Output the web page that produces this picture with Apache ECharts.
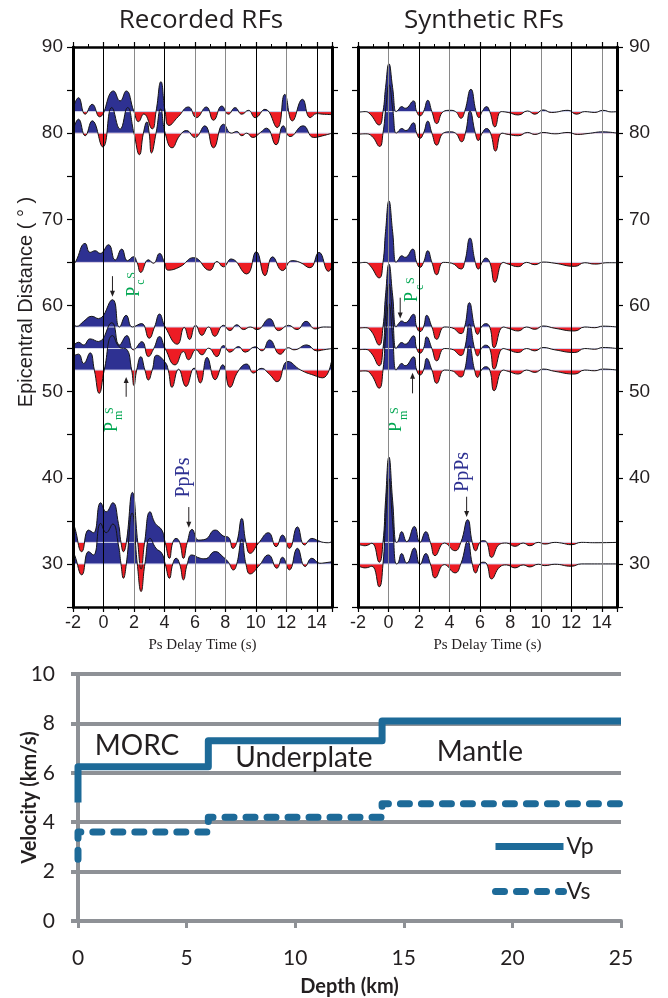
<!DOCTYPE html>
<html>
<head>
<meta charset="utf-8">
<script src="https://cdn.jsdelivr.net/npm/echarts@6/dist/echarts.min.js"></script>
<style>
  html, body { margin: 0; padding: 0; background: #ffffff; }
  #main { width: 668px; height: 998px; }
</style>
</head>
<body>
<div id="main"></div>
<script>
// Receiver-function traces. Each trace is a list of [Ps delay time (s), amplitude],
// amplitude expressed in degrees of epicentral distance above (+) or below (-) the trace baseline.
const recDistances = [82.5, 80, 65, 57.5, 55, 52.5, 32.5, 30];

const rec825 = [[-2.0,0.3],[-1.64,1.62],[-1.2,-0.3],[-0.74,0.85],[-0.26,-0.6],[0.66,2.4],[1.09,1.24],[1.49,2.4],[2.0,0],[2.3,-1.16],[2.65,-0.27],[3.2,-2.0],[3.45,0],[3.77,3.47],[4.05,0],[4.3,-1.6],[4.9,-0.6],[5.58,0.54],[6.1,-0.7],[6.75,0.54],[7.22,-1.0],[7.77,0.65],[8.2,-0.3],[8.64,0.46],[9.08,-0.3],[9.52,0.15],[9.96,-0.7],[10.6,0.27],[11.4,-1.85],[11.9,2.0],[12.4,-1.08],[13.06,1.43],[13.57,-0.7],[14.0,-0.23],[14.4,-0.3],[15.0,-0.35]];
const rec80 = [[-2.0,0.27],[-1.64,1.62],[-1.2,-0.3],[-0.74,1.43],[-0.04,-1.6],[0.55,2.97],[1.09,0.46],[1.58,2.97],[2.0,0],[2.36,-2.5],[2.62,0],[2.85,1.3],[3.0,0],[3.15,-2.3],[3.45,0],[3.75,2.8],[4.05,0],[4.5,-1.7],[5.0,-0.3],[5.45,0.3],[6.0,-0.5],[6.65,0.85],[7.22,-1.7],[7.88,1.04],[8.4,0],[8.75,0.2],[9.08,-0.3],[9.4,0],[9.8,-0.5],[10.3,0.08],[10.7,0.58],[11.33,-1.35],[11.8,0.85],[12.25,-0.4],[13.1,0.85],[13.8,-0.5],[14.4,-0.3],[15.0,0]];
const rec65 = [[-2.0,-0.27],[-1.85,0],[-1.2,2.2],[-0.88,1.16],[-0.55,1.35],[-0.22,1.04],[0.33,2.05],[0.77,0.27],[1.2,1.54],[1.58,0.2],[1.97,0.66],[2.2,0],[2.45,-1.16],[2.95,0.3],[3.28,-0.1],[3.68,1.04],[4.0,0],[4.25,-0.9],[5.03,-0.5],[5.92,0.55],[6.98,-0.92],[7.45,0.1],[7.87,-0.52],[8.38,0.4],[9.4,-1.35],[10.03,1.24],[10.6,-1.54],[11.1,0.64],[11.75,-0.95],[12.38,0.2],[12.9,0.0],[13.55,-0.62],[14.15,1.16],[14.78,-1.04],[15.0,-0.5]];
const rec575 = [[-2.0,0.46],[-1.75,0.08],[-1.3,0.66],[-0.77,1.24],[-0.33,0.97],[0.59,3.17],[1.05,0],[1.49,1.35],[1.9,0],[2.5,0.4],[3.0,-1.3],[3.35,0],[3.68,1.5],[4.05,0],[4.85,-2.0],[5.3,-0.05],[5.65,-1.45],[6.05,0.2],[6.46,-0.97],[6.9,0],[7.3,-1.08],[7.88,0.2],[8.3,-0.42],[8.75,0.27],[9.2,-0.3],[9.63,0],[10.07,-0.3],[10.9,0.97],[11.5,-0.42],[12.14,0.2],[12.7,-0.3],[13.3,0.66],[13.9,-0.23],[14.44,0],[15.0,-0.02]];
const rec55 = [[-2.0,0.23],[-1.64,0.73],[-1.3,0.42],[-0.88,1.12],[-0.33,0.81],[0.55,3.0],[1.05,0.42],[1.53,1.5],[1.97,-0.15],[2.52,0.8],[2.95,-0.93],[3.3,0],[3.68,1.39],[4.05,0],[4.7,-1.9],[5.25,-0.35],[5.58,-1.3],[6.08,-0.15],[6.46,-0.73],[6.9,0.04],[7.44,-0.93],[7.88,0.35],[8.3,-0.42],[8.86,0.23],[9.3,-0.42],[9.96,0.2],[10.4,-0.27],[10.9,1.0],[11.6,-0.66],[12.14,0.1],[12.5,-0.15],[13.35,0.42],[14.0,-0.27],[14.44,-0.15],[15.0,0.0]];
const rec525 = [[-2.0,1.62],[-1.64,1.85],[-1.3,0.77],[-0.88,2.0],[-0.6,0],[-0.28,-2.7],[0.05,0],[0.6,4.0],[1.1,2.6],[1.5,2.45],[1.85,0],[2.0,-1.8],[2.18,0],[2.45,1.55],[2.72,0],[2.95,-1.15],[3.2,0],[3.5,1.72],[4.05,0.9],[4.25,0],[4.5,-2.0],[4.93,0.1],[5.42,-1.9],[5.95,0.23],[6.35,-1.5],[6.8,1.47],[7.33,-1.12],[7.83,0.62],[8.3,-2.0],[8.85,-0.1],[9.4,0.7],[9.85,-0.35],[10.35,0.2],[10.9,-0.5],[11.4,-1.35],[12.1,1.0],[12.95,0],[13.8,-0.6],[14.4,-0.9],[14.95,0.9]];
const rec325 = [[-2.0,2.1],[-1.9,1.8],[-1.42,-1.08],[-0.98,1.43],[-0.66,1.12],[-0.18,4.6],[0.18,3.55],[0.61,4.6],[0.98,2.2],[1.15,0],[1.31,-1.08],[1.5,0],[1.9,5.8],[2.25,0],[2.47,-3.1],[2.7,0],[3.06,3.55],[3.4,2.2],[3.83,1.43],[4.05,0],[4.33,-1.85],[4.55,0],[4.77,0.46],[5.0,0],[5.25,-1.85],[5.5,0],[5.82,1.5],[6.24,0.27],[6.67,0.35],[7.33,1.43],[7.88,0.73],[8.2,0.6],[8.5,-0.7],[8.75,0],[9.08,2.78],[9.35,0],[9.63,-1.27],[10.17,-0.1],[10.83,1.12],[11.33,-0.5],[11.75,0.85],[12.2,-0.7],[12.73,1.8],[13.2,-0.3],[13.68,0.46],[14.1,0.2],[14.44,0],[14.77,-0.04],[15.0,0.1]];
const rec30 = [[-2.0,1.24],[-1.9,1.04],[-1.42,-1.27],[-0.98,1.43],[-0.66,1.04],[-0.18,4.7],[0.18,3.63],[0.61,4.63],[0.98,2.2],[1.15,0],[1.31,-1.66],[1.5,0],[1.88,5.9],[2.22,0],[2.47,-3.2],[2.72,0],[3.06,2.97],[3.45,1.81],[3.83,1.24],[4.05,0],[4.33,-1.66],[4.55,0],[4.77,0.66],[5.0,0],[5.25,-1.85],[5.5,0],[5.8,1.04],[6.35,0.66],[6.67,0.6],[7.33,1.43],[7.88,0.77],[8.2,0.2],[8.53,-0.7],[8.75,0],[9.08,2.86],[9.35,0],[9.63,-1.16],[10.17,-0.3],[10.83,1.04],[11.38,-0.5],[11.75,0.77],[12.2,-0.7],[12.73,1.81],[13.24,-0.3],[13.68,0.66],[14.2,0.08],[14.6,0.15],[15.0,0.25]];

const synDistances = [82.5, 80, 65, 57.5, 55, 52.5, 32.5, 30];

const syn825 = [[-2.0,-0.1],[-1.53,0],[-1.2,-0.3],[-0.61,-1.55],[-0.36,0],[-0.19,2.8],[0.03,5.56],[0.27,2.8],[0.5,0],[0.62,0.15],[0.87,0.58],[1.1,0.39],[1.64,1.24],[1.85,0],[2.07,-0.5],[2.3,0],[2.58,1.31],[2.85,0],[3.17,-1.39],[3.6,0],[4.04,0.15],[4.4,0],[4.76,-0.77],[5.0,0],[5.41,2.59],[5.75,0],[5.94,-0.7],[6.15,0],[6.44,0.58],[6.65,0],[6.99,-1.78],[7.4,0],[7.86,-0.1],[8.52,-0.39],[9.13,0.08],[9.61,-0.3],[10.15,0.2],[10.7,-0.1],[11.79,0.15],[12.34,-0.3],[12.88,0],[13.54,-0.1],[14.08,0.15],[14.63,-0.04],[15.0,0]];
const syn80 = [[-2.0,-0.15],[-1.53,-0.08],[-1.09,-0.35],[-0.58,-1.54],[-0.36,0],[-0.18,2.8],[0.04,5.6],[0.28,2.8],[0.5,0],[0.62,0.15],[0.87,0.54],[1.14,0.3],[1.64,1.2],[1.85,0],[2.07,-0.6],[2.3,0],[2.58,1.39],[2.85,0],[3.17,-1.39],[3.6,0],[4.04,0.15],[4.4,0],[4.8,-1.0],[5.05,0],[5.35,2.55],[5.7,0],[5.9,-0.85],[6.15,0],[6.44,0.54],[6.7,0],[7.03,-2.08],[7.45,0],[7.86,-0.15],[8.52,-0.3],[9.13,0.08],[9.61,-0.15],[10.15,0.08],[10.92,-0.08],[11.79,0.08],[12.4,-0.15],[13.1,-0.04],[14.08,0.15],[15.0,0]];
const syn65 = [[-2.0,-0.1],[-1.53,0],[-1.2,-0.39],[-0.61,-1.8],[-0.36,0],[-0.19,3.6],[0.03,7.14],[0.27,3.6],[0.5,0],[0.66,0.35],[0.87,0.77],[1.09,0.58],[1.59,1.54],[1.85,0],[2.07,-0.58],[2.3,0],[2.58,1.35],[2.85,0],[3.17,-1.43],[3.6,0],[4.15,-0.1],[4.76,-0.77],[5.0,0],[5.35,2.82],[5.7,0],[5.9,-0.77],[6.15,0],[6.38,0.5],[6.65,0],[6.99,-2.32],[7.53,0],[7.86,-0.2],[8.52,-0.5],[9.06,0],[9.61,-0.27],[10.15,0.04],[10.92,-0.1],[12.23,-0.46],[12.88,-0.04],[13.54,-0.2],[14.41,-0.04],[15.0,-0.04]];
const syn575 = [[-2.0,-0.15],[-1.53,-0.08],[-1.14,-0.46],[-0.61,-2.1],[-0.36,0],[-0.19,3.7],[0.03,7.3],[0.27,3.7],[0.5,0],[0.66,0.39],[0.87,0.7],[1.09,0.5],[1.64,1.47],[1.85,0],[2.07,-0.54],[2.3,0],[2.51,1.35],[2.85,0],[3.17,-1.43],[3.67,0],[4.15,-0.08],[4.76,-0.77],[5.0,0],[5.31,2.82],[5.65,0],[5.85,-0.85],[6.1,0],[6.38,0.39],[6.65,0],[6.94,-2.4],[7.53,0],[7.86,-0.15],[8.52,-0.46],[9.06,0],[9.61,-0.27],[10.15,0.12],[10.92,-0.15],[12.23,-0.46],[12.88,0],[13.54,-0.08],[14.08,0.1],[15.0,0]];
const syn55 = [[-2.0,-0.15],[-1.53,-0.1],[-1.14,-0.5],[-0.61,-2.0],[-0.36,0],[-0.19,3.8],[0.03,7.5],[0.27,3.8],[0.5,0],[0.66,0.39],[0.87,0.7],[1.09,0.5],[1.64,1.47],[1.85,0],[2.07,-0.54],[2.3,0],[2.51,1.35],[2.85,0],[3.17,-1.43],[3.67,0],[4.15,-0.08],[4.76,-0.8],[5.0,0],[5.31,2.82],[5.65,0],[5.85,-0.85],[6.1,0],[6.38,0.39],[6.65,0],[6.94,-2.4],[7.53,0],[7.86,-0.15],[8.52,-0.46],[9.06,0],[9.61,-0.27],[10.15,0.12],[10.92,-0.15],[12.23,-0.46],[12.88,0],[13.54,-0.08],[14.08,0.12],[15.0,0]];
const syn525 = [[-2.0,-0.15],[-1.53,-0.1],[-1.14,-0.5],[-0.61,-2.1],[-0.36,0],[-0.19,3.9],[0.03,7.7],[0.27,3.9],[0.5,0],[0.66,0.39],[0.87,0.77],[1.09,0.5],[1.64,1.54],[1.85,0],[2.07,-0.58],[2.3,0],[2.51,1.35],[2.85,0],[3.17,-1.54],[3.67,0],[4.15,-0.08],[4.76,-0.8],[5.0,0],[5.31,2.82],[5.65,0],[5.85,-0.85],[6.1,0],[6.38,0.39],[6.65,0],[6.94,-2.4],[7.53,0],[7.86,-0.15],[8.52,-0.46],[9.06,0],[9.61,-0.27],[10.15,0.12],[10.92,-0.15],[12.23,-0.46],[12.88,0],[13.54,-0.08],[14.08,0.12],[15.0,0]];
const syn325 = [[-2.0,-0.2],[-1.53,-0.39],[-1.09,-0.1],[-0.61,-2.3],[-0.36,0],[-0.19,4.9],[0.03,9.9],[0.27,4.9],[0.52,0],[0.62,0.1],[0.87,1.24],[1.2,0.08],[1.7,1.85],[2.07,0],[2.45,1.24],[2.75,0],[3.06,-1.54],[3.67,-0.08],[4.37,-0.97],[4.75,0],[5.2,2.63],[5.5,0],[5.72,-0.97],[6.0,0],[6.22,0.2],[6.45,0],[6.77,-1.74],[7.31,-0.2],[7.75,-0.08],[8.3,-0.46],[8.84,-0.08],[9.28,-0.39],[9.83,0],[10.26,-0.2],[10.92,0],[11.35,-0.08],[12.0,-0.27],[12.66,0],[13.54,-0.04],[15.0,0]];
const syn30 = [[-2.0,-0.2],[-1.53,-0.46],[-1.09,-0.27],[-0.61,-2.66],[-0.36,0],[-0.19,4.9],[0.03,9.9],[0.27,4.9],[0.52,0],[0.63,0.1],[0.87,1.2],[1.2,0.1],[1.7,1.85],[2.07,-0.08],[2.45,1.2],[2.75,0],[3.06,-1.62],[3.67,-0.08],[4.37,-1.04],[4.75,0],[5.2,2.63],[5.5,0],[5.72,-1.04],[6.0,0],[6.22,0.2],[6.45,0],[6.77,-1.74],[7.31,-0.35],[7.75,-0.12],[8.3,-0.46],[8.84,-0.12],[9.28,-0.35],[9.83,-0.04],[10.26,-0.2],[10.92,-0.04],[12.0,-0.27],[12.66,0],[15.0,0]];

const recTraces = [rec825, rec80, rec65, rec575, rec55, rec525, rec325, rec30];
const synTraces = [syn825, syn80, syn65, syn575, syn55, syn525, syn325, syn30];

// Axis ticks
const timeTickLabels = [-2, 0, 2, 4, 6, 8, 10, 12, 14];
const distanceTickLabels = [30, 40, 50, 60, 70, 80, 90];

// Velocity model (step profile vs depth)
const modelDepth = [0, 0, 6, 6, 14, 14, 25];
const vpModel = [4.8, 6.25, 6.25, 7.3, 7.3, 8.1, 8.1];
const vsModel = [2.5, 3.6, 3.6, 4.2, 4.2, 4.75, 4.75];
const layerNames = ['MORC', 'Underplate', 'Mantle'];

// ---------------------------------------------------------------------------
const BLUE = '#2e3192';
const RED = '#ed1c24';
const GREEN = '#00a651';
const INK = '#231f20';
const STEEL = '#1d6a98';
const GRID_GRAY = '#8e9196';

const chart = echarts.init(document.getElementById('main'), null, { renderer: 'canvas' });

function timeAxis(gridIndex, position, showLabels, gridColors) {
  return {
    type: 'value', gridIndex, position, min: -2, max: 15, interval: 2, z: 4,
    axisLine: { show: true, onZero: false, lineStyle: { color: '#000', width: 2.5 } },
    axisTick: { show: true, inside: false, length: 5, lineStyle: { color: '#000', width: 1.2 } },
    minorTick: { show: true, splitNumber: 2, length: 3, lineStyle: { color: '#000', width: 1 } },
    axisLabel: {
      show: showLabels, margin: 7,
      formatter: v => (timeTickLabels.indexOf(v) >= 0 ? String(v) : ''),
      fontFamily: 'Liberation Sans', fontSize: 18, color: INK
    },
    splitLine: { show: !!gridColors, lineStyle: { color: gridColors || '#000', width: 1 } },
    name: showLabels ? 'Ps Delay Time (s)' : '',
    nameLocation: 'middle', nameGap: 31, nameMoveOverlap: false,
    nameTextStyle: { fontFamily: 'Liberation Serif', fontSize: 15, color: INK }
  };
}

function distanceAxis(gridIndex, position, showLabels) {
  return {
    type: 'value', gridIndex, position, min: 25, max: 90, interval: 5, z: 4,
    axisLine: { show: true, onZero: false, lineStyle: { color: '#000', width: 3 } },
    axisTick: { show: true, inside: false, length: 6, lineStyle: { color: '#000', width: 1.2 } },
    axisLabel: {
      show: showLabels, margin: position === 'left' ? 10 : 12,
      formatter: v => (distanceTickLabels.indexOf(v) >= 0 ? String(v) : ''),
      fontFamily: 'Liberation Sans', fontSize: 19, color: INK
    },
    splitLine: { show: false }
  };
}

const series = [];
const visualMaps = [];

function addPanel(gridIndex, distances, traces) {
  distances.forEach((base, k) => {
    // faint reference line at the trace baseline
    series.push({
      type: 'line', xAxisIndex: gridIndex, yAxisIndex: gridIndex, silent: true,
      data: [[-2, base], [15, base]], symbol: 'none',
      lineStyle: { color: '#d4d6ee', width: 1 }
    });
    const idx = series.length;
    series.push({
      type: 'line', xAxisIndex: gridIndex, yAxisIndex: gridIndex, silent: true,
      data: traces[k].map(([t, a]) => [t, base + a]),
      smooth: 0.5, symbol: 'none', showSymbol: false,
      lineStyle: { color: '#151515', width: 1 },
      areaStyle: { origin: base, opacity: 1 }
    });
    // red below the baseline, blue above it
    visualMaps.push({
      type: 'piecewise', show: false, seriesIndex: idx, dimension: 1,
      pieces: [
        { min: base - 40, lt: base, color: RED },
        { gte: base, max: base + 40, color: BLUE }
      ],
      outOfRange: { color: BLUE }
    });
  });
}

addPanel(0, recDistances, recTraces);
addPanel(1, synDistances, synTraces);

series.push({
  name: 'Vp', type: 'line', xAxisIndex: 2, yAxisIndex: 2, silent: true,
  data: modelDepth.map((d, i) => [d, vpModel[i]]), symbol: 'none',
  lineStyle: { color: STEEL, width: 7, join: 'round', cap: 'butt' },
  itemStyle: { color: STEEL }
});
series.push({
  name: 'Vs', type: 'line', xAxisIndex: 2, yAxisIndex: 2, silent: true,
  data: modelDepth.map((d, i) => [d, vsModel[i]]), symbol: 'none',
  lineStyle: { color: STEEL, width: 7, type: [9, 12], cap: 'round', join: 'round' },
  itemStyle: { color: STEEL }
});

const leftGridColors = ['#000', '#000', '#8a8a8a', '#000', '#8a8a8a', '#8a8a8a', '#000', '#8a8a8a', '#000', '#000'];
const rightGridColors = ['#000', '#8a8a8a', '#000', '#8a8a8a', '#000', '#000', '#8a8a8a', '#000', '#8a8a8a', '#000'];

const option = {
  animation: false,
  backgroundColor: '#ffffff',
  grid: [
    { left: 73, top: 47, width: 259, height: 560, outerBoundsMode: 'none', containLabel: false },
    { left: 358, top: 47, width: 259, height: 560, outerBoundsMode: 'none', containLabel: false },
    { left: 78, top: 674, width: 543, height: 247, outerBoundsMode: 'none', containLabel: false }
  ],
  xAxis: [
    timeAxis(0, 'bottom', true, leftGridColors),
    timeAxis(1, 'bottom', true, rightGridColors),
    {
      type: 'value', gridIndex: 2, min: 0, max: 25, interval: 5,
      axisLine: { show: true, onZero: false, lineStyle: { color: GRID_GRAY, width: 4 } },
      axisTick: { show: true, length: 7, lineStyle: { color: GRID_GRAY, width: 3 } },
      axisLabel: { margin: 27, fontFamily: 'Lato', fontSize: 21, color: INK },
      splitLine: { show: false },
      name: 'Depth (km)', nameLocation: 'middle', nameGap: 56, nameMoveOverlap: false,
      nameTextStyle: { fontFamily: 'Lato', fontWeight: 'bold', fontSize: 20, color: INK }
    },
    timeAxis(0, 'top', false, null),
    timeAxis(1, 'top', false, null)
  ],
  yAxis: [
    distanceAxis(0, 'left', true),
    distanceAxis(1, 'left', false),
    {
      type: 'value', gridIndex: 2, min: 0, max: 10, interval: 2,
      axisLine: { show: true, onZero: false, lineStyle: { color: GRID_GRAY, width: 4 } },
      axisTick: { show: true, length: 7, lineStyle: { color: GRID_GRAY, width: 4 } },
      axisLabel: { margin: 23, fontFamily: 'Lato', fontSize: 21, color: INK },
      splitLine: { show: true, lineStyle: { color: GRID_GRAY, width: 4 } },
      name: 'Velocity (km/s)', nameLocation: 'middle', nameGap: 38, nameRotate: 90, nameMoveOverlap: false,
      nameTextStyle: { fontFamily: 'Lato', fontWeight: 'bold', fontSize: 20, color: INK }
    },
    distanceAxis(0, 'right', false),
    distanceAxis(1, 'right', true)
  ],
  visualMap: visualMaps,
  legend: {
    data: ['Vp', 'Vs'], orient: 'vertical', left: 487, top: 830,
    itemWidth: 68, itemHeight: 12, itemGap: 22,
    itemStyle: { opacity: 0 },
    lineStyle: { width: 7 },
    textStyle: { fontFamily: 'Lato', fontSize: 23, color: INK, padding: [0, 0, 0, -2] },
    selectedMode: false
  },
  series
};

chart.setOption(option);

// ---- text annotations placed in data coordinates ----
function toPx(gridIndex, x, y) {
  return chart.convertToPixel({ gridIndex }, [x, y]);
}

function arrow(gridIndex, t, dTail, dTip) {
  const a = toPx(gridIndex, t, dTail);
  const b = toPx(gridIndex, t, dTip);
  const dir = b[1] > a[1] ? 1 : -1;
  const headLen = 6, headHalf = 2.5;
  return [
    { type: 'line', silent: true, z: 20,
      shape: { x1: a[0], y1: a[1], x2: b[0], y2: b[1] - dir * headLen * 0.6 },
      style: { stroke: INK, lineWidth: 1 } },
    { type: 'polygon', silent: true, z: 20,
      shape: { points: [[b[0], b[1]], [b[0] - headHalf, b[1] - dir * headLen], [b[0] + headHalf, b[1] - dir * headLen]] },
      style: { fill: INK } }
  ];
}

// Phase name written upward: large P, small subscript letter, small raised S
function phaseLabel(gridIndex, t, d, subLetter, color) {
  const p = toPx(gridIndex, t, d);
  return {
    type: 'group', x: p[0], y: p[1], rotation: Math.PI / 2, silent: true, z: 20,
    children: [
      { type: 'text', x: 0, y: -6, style: { text: 'P', font: '18px "Liberation Serif"', fill: color, align: 'left', verticalAlign: 'middle', textAlign: 'left', textVerticalAlign: 'middle' } },
      { type: 'text', x: 12, y: 1, style: { text: subLetter, font: '12px "Liberation Serif"', fill: color, align: 'left', verticalAlign: 'middle', textAlign: 'left', textVerticalAlign: 'middle' } },
      { type: 'text', x: 18, y: -8, style: { text: 'S', font: '12px "Liberation Serif"', fill: color, align: 'left', verticalAlign: 'middle', textAlign: 'left', textVerticalAlign: 'middle' } }
    ]
  };
}

function upText(gridIndex, t, d, text, color, size) {
  const p = toPx(gridIndex, t, d);
  return {
    type: 'text', x: p[0], y: p[1], rotation: Math.PI / 2, silent: true, z: 20,
    style: { text, font: size + 'px "Liberation Serif"', fill: color, align: 'left', verticalAlign: 'middle', textAlign: 'left', textVerticalAlign: 'middle' }
  };
}

function plainText(x, y, text, font, color, rotation) {
  return {
    type: 'text', x, y, rotation: rotation || 0, silent: true, z: 20,
    style: { text, font, fill: color, align: 'center', verticalAlign: 'middle', textAlign: 'center', textVerticalAlign: 'middle' }
  };
}

function layerLabel(depth, vel, text) {
  const p = toPx(2, depth, vel);
  return plainText(p[0], p[1], text, '28px "Lato"', INK);
}

const graphics = [
  plainText(201, 21, 'Recorded RFs', '26px "Open Sans"', INK),
  plainText(484, 21, 'Synthetic RFs', '26px "Open Sans"', INK),
  plainText(26, 302, 'Epicentral Distance ( \u00b0 )', '20px "Liberation Sans"', INK, Math.PI / 2),

  // recorded panel
  ...arrow(0, 0.59, 63.4, 61.0),
  phaseLabel(0, 2.4, 61.0, 'c', GREEN),
  ...arrow(0, 1.49, 49.4, 51.7),
  phaseLabel(0, 0.95, 45.3, 'm', GREEN),
  ...arrow(0, 5.6, 36.6, 34.2),
  upText(0, 5.3, 37.7, 'PpPs', BLUE, 20),

  // synthetic panel
  ...arrow(1, 0.77, 60.9, 58.5),
  phaseLabel(1, 1.98, 60.4, 'c', GREEN),
  ...arrow(1, 1.58, 49.8, 52.2),
  phaseLabel(1, 0.93, 45.3, 'm', GREEN),
  ...arrow(1, 5.13, 37.8, 35.45),
  upText(1, 4.85, 38.35, 'PpPs', BLUE, 20),

  layerLabel(2.72, 7.09, layerNames[0]),
  layerLabel(10.4, 6.6, layerNames[1]),
  layerLabel(18.5, 6.84, layerNames[2])
];

chart.setOption({ graphic: graphics });
</script>
</body>
</html>
